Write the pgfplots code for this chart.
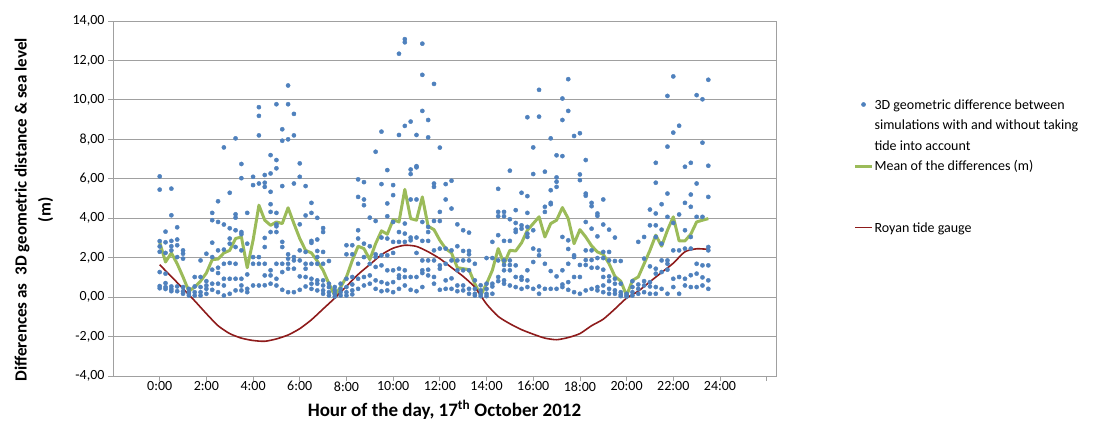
\documentclass[border=0pt]{standalone}
\usepackage{fontspec}
\setmainfont{Carlito}
\usepackage{pgfplots}
\pgfplotsset{compat=1.18}

\definecolor{ptblue}{HTML}{4F81BD}
\definecolor{meangreen}{HTML}{9BBB59}
\definecolor{tidered}{HTML}{8E1B1B}
\definecolor{gridgray}{HTML}{A0A0A0}

\newcommand\lgstrut{\rule[-6.5pt]{0pt}{20.5pt}}

\begin{document}
\begin{tikzpicture}
\useasboundingbox (0,0) rectangle (1107pt,428pt);
\begin{axis}[
    at={(113pt,52pt)}, anchor=south west,
    scale only axis,
    width=663pt, height=355pt,
    xmin=-2, xmax=26.4,
    ymin=-4, ymax=14,
    xtick={0,2,...,26},
    xticklabels={0:00,2:00,4:00,6:00,8:00,10:00,12:00,14:00,16:00,18:00,20:00,22:00,24:00,{}},
    ytick={-4,-2,...,14},
    yticklabel style={/pgf/number format/.cd, fixed, fixed zerofill, precision=2, use comma},
    /pgf/number format/assume math mode=true,
    ticklabel style={font=\fontsize{14pt}{17pt}\selectfont},
    xticklabel style={yshift=3pt},
    tick align=outside,
    tick pos=left,
    major tick length=5pt,
    major tick style={gridgray, line width=0.8pt},
    axis line style={gridgray, line width=0.8pt},
    ymajorgrids=true,
    grid style={gridgray, line width=0.9pt},
    xlabel={Hour of the day, 17\textsuperscript{th} October 2012},
    xlabel style={font=\bfseries\fontsize{19pt}{22pt}\selectfont,
        at={(axis description cs:0.5,-0.1127)}, anchor=base},
    ylabel={Differences as\ \ 3D geometric distance \& sea level\\(m)},
    ylabel style={font=\bfseries\fontsize{17pt}{24pt}\selectfont, align=center,
        at={(axis description cs:-0.1192,0.468)}, anchor=center},
    legend style={
        at={(axis description cs:1.1169,0.7915)}, anchor=north west,
        draw=none, fill=none, inner sep=0pt, outer sep=0pt,
        row sep=0pt, column sep=1pt,
        nodes={inner sep=0pt, outer sep=0pt, text depth=, text height=},
        cells={anchor=base west},
        font=\fontsize{14pt}{20.5pt}\selectfont,
    },
    legend image post style={yshift=4.5pt},
]

% 3D geometric difference, one row per quarter hour
\addplot[only marks, mark=*, mark size=2.1pt, color=ptblue, mark options={draw=ptblue, fill=ptblue}]
    coordinates {
    (0,6.12)(0,5.45)(0,2.84)(0,2.57)(0,2.3)(0,1.27)(0,0.56)(0,0.45)
    (0.25,3.32)(0.25,2.78)(0.25,2.24)(0.25,1.19)(0.25,0.71)(0.25,0.51)(0.25,0.41)
    (0.5,5.5)(0.5,4.15)(0.5,2.85)(0.5,2.58)(0.5,2.37)(0.5,0.54)(0.5,0.41)(0.5,0.3)
    (0.75,3.54)(0.75,2.92)(0.75,2.63)(0.75,2.03)(0.75,0.54)(0.75,0.3)
    (1,2.37)(1,2.2)(1,1.95)(1,0.51)(1,0.3)(1,0.17)
    (1.25,0.42)(1.25,0.25)(1.25,0.17)(1.25,0.08)
    (1.5,1.02)(1.5,0.54)(1.5,0.25)(1.5,0.08)
    (1.75,1.86)(1.75,1.02)(1.75,0.51)(1.75,0.25)(1.75,0.08)
    (2,2.2)(2,0.81)(2,0.59)(2,0.42)(2,0.17)
    (2.25,4.27)(2.25,3.9)(2.25,2.76)(2.25,2.03)(2.25,1.39)(2.25,0.68)(2.25,0.37)
    (2.5,4.86)(2.5,3.81)(2.5,2.37)(2.5,1.49)(2.5,1.22)(2.5,0.68)(2.5,0.25)
    (2.75,7.59)(2.75,3.68)(2.75,2.41)(2.75,1.69)(2.75,0.93)(2.75,0.59)(2.75,0.08)
    (3,5.29)(3,3.49)(3,2.97)(3,2.71)(3,1.73)(3,0.93)(3,0.17)
    (3.25,8.05)(3.25,4.2)(3.25,4.03)(3.25,3.39)(3.25,2.54)(3.25,1.69)(3.25,0.93)(3.25,0.34)
    (3.5,6.75)(3.5,6.03)(3.5,3.3)(3.5,3.19)(3.5,2.37)(3.5,0.93)(3.5,0.59)(3.5,0.34)
    (3.75,4.27)(3.75,2.71)(3.75,1.15)(3.75,0.42)(3.75,0.25)
    (4,6.1)(4,5.68)(4,2.03)(4,1.69)(4,0.59)
    (4.25,9.63)(4.25,9.19)(4.25,8.2)(4.25,5.76)(4.25,2.03)(4.25,1.69)(4.25,0.59)
    (4.5,6.19)(4.5,5.8)(4.5,5.59)(4.5,3.0)(4.5,2.54)(4.5,1.69)(4.5,1.1)(4.5,0.6)
    (4.75,7.2)(4.75,6.27)(4.75,5.34)(4.75,4.71)(4.75,4.32)(4.75,3.3)(4.75,1.36)(4.75,1.1)(4.75,0.68)
    (5,9.78)(5,6.95)(5,6.53)(5,4.27)(5,3.69)(5,3.59)(5,3.3)(5,1.69)(5,0.93)(5,0.59)
    (5.25,8.51)(5.25,7.93)(5.25,5.63)(5.25,2.8)(5.25,2.54)(5.25,1.69)(5.25,1.27)(5.25,0.37)
    (5.5,10.73)(5.5,9.78)(5.5,8.0)(5.5,2.17)(5.5,1.95)(5.5,1.69)(5.5,1.44)(5.5,0.25)
    (5.75,9.29)(5.75,8.2)(5.75,5.76)(5.75,2.03)(5.75,1.86)(5.75,1.44)(5.75,0.25)
    (6,6.78)(6,6.1)(6,3.69)(6,2.37)(6,1.86)(6,1.05)(6,0.37)
    (6.25,5.63)(6.25,4.14)(6.25,2.29)(6.25,1.69)(6.25,1.44)(6.25,1.02)(6.25,0.54)
    (6.5,4.78)(6.5,4.27)(6.5,2.85)(6.5,2.75)(6.5,1.69)(6.5,0.93)(6.5,0.68)(6.5,0.42)
    (6.75,4.02)(6.75,2.92)(6.75,2.34)(6.75,2.03)(6.75,1.69)(6.75,0.85)(6.75,0.68)(6.75,0.34)
    (7,3.5)(7,3.3)(7,2.29)(7,1.69)(7,0.85)(7,0.59)(7,0.34)(7,0.17)
    (7.25,1.83)(7.25,0.68)(7.25,0.51)(7.25,0.25)(7.25,0.08)
    (7.5,0.51)(7.5,0.34)(7.5,0.17)(7.5,0.03)
    (7.75,0.68)(7.75,0.42)(7.75,0.25)(7.75,0.08)
    (8,2.63)(8,2.17)(8,0.93)(8,0.51)(8,0.25)(8,0.08)
    (8.25,2.63)(8.25,2.17)(8.25,1.02)(8.25,0.64)(8.25,0.34)(8.25,0.14)
    (8.5,5.97)(8.5,5.08)(8.5,3.39)(8.5,2.97)(8.5,1.69)(8.5,0.93)(8.5,0.42)
    (8.75,5.83)(8.75,4.95)(8.75,4.66)(8.75,2.71)(8.75,2.03)(8.75,1.02)(8.75,0.59)
    (9,4.03)(9,2.58)(9,1.69)(9,1.1)(9,0.68)
    (9.25,7.37)(9.25,3.86)(9.25,2.17)(9.25,2.03)(9.25,1.53)(9.25,0.85)(9.25,0.42)
    (9.5,8.39)(9.5,5.73)(9.5,3.02)(9.5,2.12)(9.5,1.61)(9.5,0.76)(9.5,0.3)
    (9.75,6.44)(9.75,4.75)(9.75,4.1)(9.75,2.97)(9.75,2.12)(9.75,1.36)(9.75,0.68)(9.75,0.34)
    (10,5.68)(10,5.17)(10,3.81)(10,2.8)(10,2.24)(10,1.36)(10,0.76)(10,0.25)
    (10.25,12.34)(10.25,8.22)(10.25,3.3)(10.25,2.8)(10.25,1.44)(10.25,1.1)(10.25,0.97)(10.25,0.42)
    (10.5,13.08)(10.5,12.92)(10.5,8.68)(10.5,3.73)(10.5,3.22)(10.5,2.8)(10.5,1.36)(10.5,1.02)(10.5,0.59)
    (10.75,8.9)(10.75,6.47)(10.75,6.24)(10.75,4.95)(10.75,3.02)(10.75,2.88)(10.75,1.02)(10.75,0.37)
    (11,8.22)(11,6.64)(11,6.58)(11,4.95)(11,3.02)(11,2.24)(11,1.02)(11,0.3)
    (11.25,12.85)(11.25,11.27)(11.25,9.44)(11.25,3.81)(11.25,2.85)(11.25,1.86)(11.25,1.36)(11.25,1.22)(11.25,0.51)
    (11.5,8.98)(11.5,8.1)(11.5,3.56)(11.5,3.3)(11.5,2.85)(11.5,1.86)(11.5,1.39)(11.5,1.1)
    (11.75,10.81)(11.75,5.76)(11.75,5.59)(11.75,3.86)(11.75,2.37)(11.75,1.86)(11.75,1.02)(11.75,0.68)
    (12,7.58)(12,4.32)(12,3.86)(12,2.46)(12,1.61)(12,1.44)(12,0.37)
    (12.25,5.73)(12.25,4.95)(12.25,2.46)(12.25,1.69)(12.25,0.85)(12.25,0.42)
    (12.5,5.9)(12.5,4.49)(12.5,2.37)(12.5,1.86)(12.5,0.95)(12.5,0.42)
    (12.75,3.69)(12.75,2.58)(12.75,1.86)(12.75,1.36)(12.75,0.59)(12.75,0.3)
    (13,3.39)(13,2.34)(13,1.86)(13,1.36)(13,0.59)(13,0.34)
    (13.25,3.27)(13.25,2.34)(13.25,2.17)(13.25,1.86)(13.25,1.36)(13.25,0.42)(13.25,0.17)
    (13.5,1.69)(13.5,0.85)(13.5,0.42)(13.5,0.17)(13.5,0.08)
    (13.75,0.6)(13.75,0.34)(13.75,0.17)(13.75,0.05)
    (14,1.98)(14,0.68)(14,0.42)(14,0.17)(14,0.05)
    (14.25,2.8)(14.25,1.98)(14.25,0.68)(14.25,0.54)(14.25,0.17)
    (14.5,5.49)(14.5,4.32)(14.5,4.1)(14.5,3.14)(14.5,1.86)(14.5,1.02)(14.5,0.81)
    (14.75,4.32)(14.75,4.1)(14.75,2.85)(14.75,1.86)(14.75,1.63)(14.75,1.36)(14.75,0.85)(14.75,0.68)
    (15,6.41)(15,3.95)(15,2.85)(15,1.86)(15,1.63)(15,1.36)(15,0.59)
    (15.25,4.41)(15.25,3.76)(15.25,3.42)(15.25,3.3)(15.25,1.61)(15.25,1.02)(15.25,0.51)
    (15.5,5.29)(15.5,3.64)(15.5,3.47)(15.5,1.02)(15.5,0.88)(15.5,0.42)
    (15.75,9.12)(15.75,5.12)(15.75,4.27)(15.75,3.56)(15.75,3.22)(15.75,3.05)(15.75,1.36)(15.75,0.85)(15.75,0.51)
    (16,7.59)(16,6.24)(16,3.39)(16,2.46)(16,1.78)(16,0.42)
    (16.25,10.51)(16.25,9.15)(16.25,2.37)(16.25,2.12)(16.25,0.54)(16.25,0.17)
    (16.5,6.36)(16.5,4.58)(16.5,4.32)(16.5,1.69)(16.5,0.42)
    (16.75,8.05)(16.75,5.42)(16.75,4.78)(16.75,4.71)(16.75,1.32)(16.75,0.42)
    (17,7.19)(17,6.07)(17,5.85)(17,5.59)(17,1.05)(17,0.42)
    (17.25,10.07)(17.25,8.98)(17.25,7.15)(17.25,3.05)(17.25,1.36)(17.25,0.64)(17.25,0.51)
    (17.5,11.05)(17.5,9.44)(17.5,2.88)(17.5,2.44)(17.5,1.69)(17.5,0.76)(17.5,0.37)
    (17.75,8.17)(17.75,2.12)(17.75,2.03)(17.75,1.02)(17.75,0.25)
    (18,8.31)(18,6.22)(18,5.93)(18,1.63)(18,1.02)(18,0.17)
    (18.25,6.95)(18.25,5.25)(18.25,5.14)(18.25,3.81)(18.25,2.37)(18.25,1.88)(18.25,1.63)(18.25,0.34)
    (18.5,4.78)(18.5,4.61)(18.5,3.47)(18.5,2.37)(18.5,1.88)(18.5,1.49)(18.5,0.42)
    (18.75,4.24)(18.75,4.12)(18.75,3.08)(18.75,1.98)(18.75,1.49)(18.75,0.51)(18.75,0.34)
    (19,4.95)(19,3.68)(19,2.29)(19,1.98)(19,1.39)(19,1.02)(19,0.59)(19,0.25)
    (19.25,3.42)(19.25,2.29)(19.25,1.86)(19.25,1.05)(19.25,0.81)(19.25,0.42)(19.25,0.17)
    (19.5,3.02)(19.5,1.83)(19.5,0.93)(19.5,0.68)(19.5,0.34)(19.5,0.17)
    (19.75,1.83)(19.75,0.68)(19.75,0.25)(19.75,0.12)(19.75,0.05)
    (20,0.17)(20,0.08)(20,0.03)
    (20.25,0.81)(20.25,0.51)(20.25,0.25)(20.25,0.08)
    (20.5,2.8)(20.5,0.64)(20.5,0.42)(20.5,0.17)
    (20.75,3.05)(20.75,1.95)(20.75,0.81)(20.75,0.59)(20.75,0.25)
    (21,4.44)(21,3.64)(21,1.56)(21,0.76)(21,0.54)(21,0.17)
    (21.25,6.81)(21.25,5.8)(21.25,4.24)(21.25,3.64)(21.25,3.05)(21.25,1.44)(21.25,1.19)(21.25,0.51)(21.25,0.17)
    (21.5,4.71)(21.5,3.42)(21.5,2.71)(21.5,1.86)(21.5,1.27)(21.5,0.42)
    (21.75,10.2)(21.75,7.63)(21.75,5.25)(21.75,4.07)(21.75,1.86)(21.75,1.69)(21.75,1.39)(21.75,0.17)
    (22,11.19)(22,8.34)(22,3.76)(22,2.37)(22,0.93)(22,0.51)
    (22.25,8.69)(22.25,4.19)(22.25,2.37)(22.25,1.02)(22.25,0.17)
    (22.5,6.61)(22.5,4.78)(22.5,3.39)(22.5,2.46)(22.5,0.93)(22.5,0.59)
    (22.75,6.81)(22.75,5.2)(22.75,4.58)(22.75,3.05)(22.75,2.46)(22.75,1.11)(22.75,0.51)
    (23,10.24)(23,5.76)(23,4.07)(23,1.69)(23,1.19)(23,0.51)
    (23.25,10.03)(23.25,7.83)(23.25,4.07)(23.25,1.61)(23.25,1.0)(23.25,0.59)
    (23.5,11.02)(23.5,6.66)(23.5,5.08)(23.5,2.54)(23.5,2.37)(23.5,1.61)(23.5,0.85)(23.5,0.42)
    };
\addlegendentry{\parbox[t]{250pt}{\lgstrut 3D geometric difference between\\\lgstrut simulations with and without taking\\\lgstrut tide into account}}

% mean of the differences
\addplot[color=meangreen, line width=3pt, line join=round]
    coordinates {
    (0,2.78)(0.25,1.78)(0.5,2.24)(0.75,1.69)(1,1.02)(1.25,0.3)(1.5,0.51)(1.75,0.81)
    (2,1.22)(2.25,1.9)(2.5,1.93)(2.75,2.24)(3,2.37)(3.25,2.97)(3.5,3.05)(3.75,1.49)
    (4,2.88)(4.25,4.66)(4.5,3.9)(4.75,3.64)(5,3.81)(5.25,3.73)(5.5,4.53)(5.75,3.73)
    (6,2.97)(6.25,2.37)(6.5,2.24)(6.75,1.83)(7,1.36)(7.25,0.68)(7.5,0.08)(7.75,0.51)
    (8,1.02)(8.25,1.86)(8.5,2.58)(8.75,2.46)(9,1.9)(9.25,2.71)(9.5,3.36)(9.75,3.19)
    (10,3.93)(10.25,3.81)(10.5,5.46)(10.75,3.98)(11,3.9)(11.25,5.08)(11.5,3.59)(11.75,3.42)
    (12,2.88)(12.25,2.46)(12.5,2.24)(12.75,1.49)(13,1.44)(13.25,1.39)(13.5,0.68)(13.75,0.08)
    (14,0.68)(14.25,1.36)(14.5,2.46)(14.75,1.69)(15,2.37)(15.25,2.34)(15.5,2.75)(15.75,3.39)
    (16,3.73)(16.25,4.07)(16.5,3.05)(16.75,3.73)(17,3.9)(17.25,4.54)(17.5,3.98)(17.75,2.71)
    (18,3.42)(18.25,3.05)(18.5,2.6)(18.75,2.29)(19,2.17)(19.25,1.69)(19.5,1.05)(19.75,0.81)
    (20,0.08)(20.25,0.85)(20.5,1.02)(20.75,1.69)(21,2.37)(21.25,3.14)(21.5,2.58)(21.75,3.39)
    (22,4.07)(22.25,2.85)(22.5,2.85)(22.75,3.19)(23,3.81)(23.25,3.9)(23.5,3.98)
    };
\addlegendentry{Mean of the differences (m)\rule[-47.5pt]{0pt}{61.5pt}}

% Royan tide gauge
\addplot[color=tidered, line width=1.6pt, smooth, tension=0.4]
    coordinates {
    (0,1.64)(0.5,1.04)(1,0.43)(1.5,-0.19)(2,-0.84)(2.5,-1.45)(3,-1.85)(3.5,-2.08)
    (4,-2.2)(4.5,-2.24)(5,-2.12)(5.5,-1.92)(6,-1.6)(6.5,-1.15)(7,-0.6)(7.5,-0.05)
    (8,0.55)(8.5,1.15)(9,1.65)(9.5,2.15)(10,2.48)(10.5,2.63)(11,2.57)(11.5,2.3)
    (12,1.95)(12.5,1.5)(13,1.05)(13.5,0.5)(14,-0.35)(14.5,-0.98)(15,-1.35)(15.5,-1.65)
    (16,-1.88)(16.5,-2.08)(17,-2.16)(17.5,-2.05)(18,-1.85)(18.5,-1.45)(19,-1.12)(19.5,-0.6)
    (20,-0.05)(20.5,0.3)(21,0.78)(21.5,1.25)(22,1.72)(22.5,2.3)(23,2.45)(23.5,2.42)
    };
\addlegendentry{Royan tide gauge\lgstrut}

\end{axis}
\end{tikzpicture}
\end{document}
